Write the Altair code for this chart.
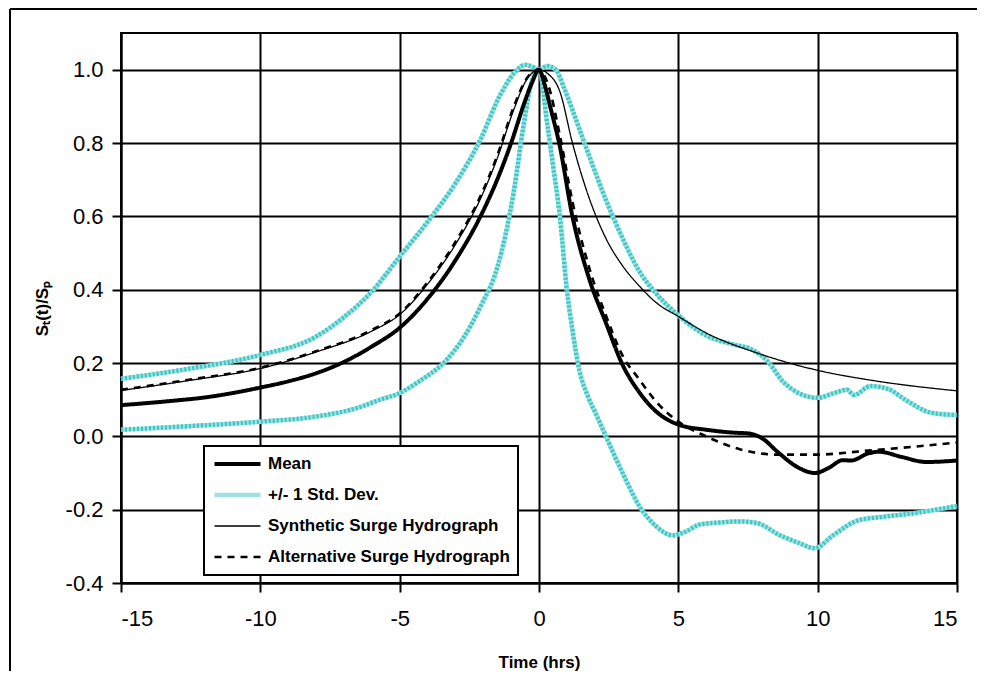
import altair as alt
import pandas as pd

SERIES = ["Mean", "+/- 1 Std. Dev.", "Synthetic Surge Hydrograph", "Alternative Surge Hydrograph"]

mean_t = [-15, -13, -12, -11, -10, -9, -8, -7, -6, -5, -4, -3, -2.1, -1.5, -1, -0.5, -0.25, 0,
          0.2, 0.4, 0.75, 1.2, 1.8, 2.4, 3.0, 3.6, 4.2, 5.0, 6.0, 7.0, 7.5, 8.0, 8.6, 9.3, 9.9,
          10.4, 10.9, 11.2, 11.8, 12.2, 13.0, 13.9, 15]
mean_v = [0.085, 0.098, 0.106, 0.118, 0.133, 0.15, 0.172, 0.203, 0.245, 0.296, 0.375, 0.48, 0.6,
          0.7, 0.8, 0.915, 0.965, 1.0, 0.96, 0.9, 0.79, 0.6, 0.43, 0.31, 0.195, 0.12, 0.068, 0.032,
          0.018, 0.01, 0.008, -0.005, -0.045, -0.085, -0.1, -0.086, -0.065, -0.066, -0.047, -0.042,
          -0.056, -0.07, -0.066]

alt_t = [-15, -12.5, -10, -8, -6, -5, -4, -3, -2.1, -1.5, -0.9, -0.45, 0, 0.3, 0.75, 1.2, 1.8,
         2.4, 3.0, 3.6, 4.2, 5.0, 6.0, 7.2, 8.6, 9.9, 11.8, 13.5, 15]
alt_v = [0.127, 0.155, 0.187, 0.232, 0.29, 0.335, 0.42, 0.53, 0.655, 0.765, 0.9, 0.975, 1.0,
         0.965, 0.82, 0.64, 0.46, 0.33, 0.22, 0.155, 0.095, 0.04, 0.0, -0.035, -0.05, -0.05,
         -0.039, -0.028, -0.017]

syn_t = [-15, -12.5, -10, -8, -6, -5, -4, -3, -2.1, -1.5, -0.9, -0.45, 0, 0.3, 0.75, 1.2, 1.8,
         2.4, 3.0, 3.6, 4.2, 5.0, 6.0, 7.8, 10, 12, 15]
syn_v = [0.125, 0.153, 0.185, 0.23, 0.287, 0.332, 0.415, 0.523, 0.648, 0.758, 0.892, 0.972, 1.0,
         0.99, 0.94, 0.8, 0.65, 0.54, 0.465, 0.41, 0.365, 0.327, 0.282, 0.228, 0.18, 0.152, 0.124]

up_t = [-15, -12.5, -10, -8, -7, -6, -5, -4, -3, -2.1, -1.4, -0.9, -0.5, -0.15, 0, 0.3, 0.6,
        0.9, 1.2, 1.8, 2.4, 3.0, 3.6, 4.2, 5.0, 6.0, 7.0, 7.6, 8.2, 8.75, 9.4, 10.0, 10.55, 11.05,
        11.3, 11.9, 12.5, 13.2, 14.1, 15]
up_v = [0.157, 0.185, 0.222, 0.272, 0.325, 0.395, 0.49, 0.585, 0.69, 0.81, 0.93, 0.99, 1.013,
        1.005, 1.0, 1.01, 1.0, 0.95, 0.89, 0.765, 0.645, 0.54, 0.45, 0.39, 0.33, 0.275, 0.25,
        0.238, 0.205, 0.15, 0.115, 0.105, 0.117, 0.127, 0.113, 0.137, 0.13, 0.097, 0.064, 0.058]

lo_t = [-15, -12.5, -10, -8, -6.5, -5.7, -5, -4.3, -3.3, -2.7, -2.1, -1.5, -1.2, -0.9, -0.55,
        -0.25, 0, 0.3, 0.5, 0.75, 1.0, 1.2, 1.45, 1.75, 2.05, 2.4, 3.0, 3.6, 4.2, 4.8, 5.2, 5.8,
        6.5, 7.2, 7.8, 8.65, 9.3, 9.9, 10.55, 11.5, 12.3, 13.5, 15]
lo_v = [0.018, 0.028, 0.04, 0.054, 0.078, 0.1, 0.118, 0.15, 0.21, 0.27, 0.354, 0.46, 0.55, 0.67,
        0.85, 0.97, 1.0, 0.85, 0.74, 0.6, 0.4, 0.29, 0.18, 0.11, 0.06, 0.0, -0.1, -0.19, -0.245,
        -0.27, -0.262, -0.24, -0.235, -0.232, -0.236, -0.27, -0.29, -0.305, -0.27, -0.228, -0.22,
        -0.209, -0.19]

x_ticks = [-15, -10, -5, 0, 5, 10, 15]
y_ticks = [-0.4, -0.2, 0.0, 0.2, 0.4, 0.6, 0.8, 1.0]

rows = []
def add(series, line, ts, vs):
    for t, v in zip(ts, vs):
        rows.append({"t": t, "v": v, "series": series, "line": line})

add(SERIES[1], "upper", up_t, up_v)
add(SERIES[1], "lower", lo_t, lo_v)
add(SERIES[2], "syn", syn_t, syn_v)
add(SERIES[3], "alt", alt_t, alt_v)
add(SERIES[0], "mean", mean_t, mean_v)
df = pd.DataFrame(rows)

FONT = "Liberation Sans"

X = alt.X("t:Q", scale=alt.Scale(domain=[-15, 15], nice=False),
          axis=alt.Axis(values=x_ticks, title="Time (hrs)", labelPadding=16,
                        labelExpr="replace(datum.label, '\u2212', '-')",
                        titleY=84, titleBaseline="alphabetic"))
Y = alt.Y("v:Q", scale=alt.Scale(domain=[-0.4, 1.1], nice=False, zero=False),
          axis=alt.Axis(values=y_ticks, format=".1f", title="S\u209c(t)/S\u209a", labelPadding=9,
                        labelExpr="replace(datum.label, '\u2212', '-')",
                        titleX=-74, titleY=275, titleBaseline="alphabetic", titleAngle=270))

LEG = alt.Legend(title=None, orient="none", legendX=83, legendY=413)
C = alt.Color("series:N", scale=alt.Scale(domain=SERIES, range=["#000000", "#9FE1E1", "#000000", "#000000"]), legend=LEG)
SD = alt.StrokeDash("series:N", scale=alt.Scale(domain=SERIES, range=[[1, 0], [1, 0], [1, 0], [7, 6]]), legend=LEG)
SW = alt.StrokeWidth("series:N", scale=alt.Scale(type="ordinal", domain=SERIES, range=[4, 4.5, 1.3, 2.6]), legend=LEG)

def layer(names):
    sub = df[df["series"].isin(names)]
    return alt.Chart(sub).mark_line(interpolate="monotone").encode(
        x=X, y=Y, color=C, strokeDash=SD, strokeWidth=SW, detail="line:N")

std_over = alt.Chart(df[df["series"] == SERIES[1]]).mark_line(
    interpolate="monotone", color="#38C8C8", strokeWidth=4.5, strokeDash=[2, 2]
).encode(x=X, y=Y, detail="line:N")

frame_df = pd.DataFrame({"k": [0]})
frame_top = alt.Chart(frame_df).mark_rule(color="black", strokeWidth=2).encode(
    x=alt.value(-111), x2=alt.value(880), y=alt.value(-24))
frame_left = alt.Chart(frame_df).mark_rule(color="black", strokeWidth=2).encode(
    x=alt.value(-111), y=alt.value(-24), y2=alt.value(660))

chart = alt.layer(
    frame_top, frame_left,
    layer([SERIES[1]]), std_over,
    layer([SERIES[2]]), layer([SERIES[3]]), layer([SERIES[0]]),
).properties(
    width=836, height=550, autosize="none",
    padding={"left": 113, "top": 25, "right": 20, "bottom": 88},
    background="white",
).configure_view(
    stroke="black", strokeWidth=2
).configure_axis(
    domainColor="black", domainWidth=2, tickColor="black", tickWidth=2, tickSize=9,
    gridColor="black", gridWidth=2, gridOpacity=1,
    labelFont=FONT, labelFontSize=22, labelColor="black",
    titleFont=FONT, titleFontSize=17, titleFontWeight="bold", titleColor="black",
).configure_legend(
    labelFont=FONT, labelFontSize=17, labelFontWeight="bold", labelColor="black",
    symbolType="stroke", symbolSize=2116, padding=8, rowPadding=11, clipHeight=20,
    labelOffset=5,
    strokeColor="black", strokeWidth=2, fillColor="white", labelLimit=400,
)

chart.save("out.html", embed_options={"renderer": "svg", "actions": False})
